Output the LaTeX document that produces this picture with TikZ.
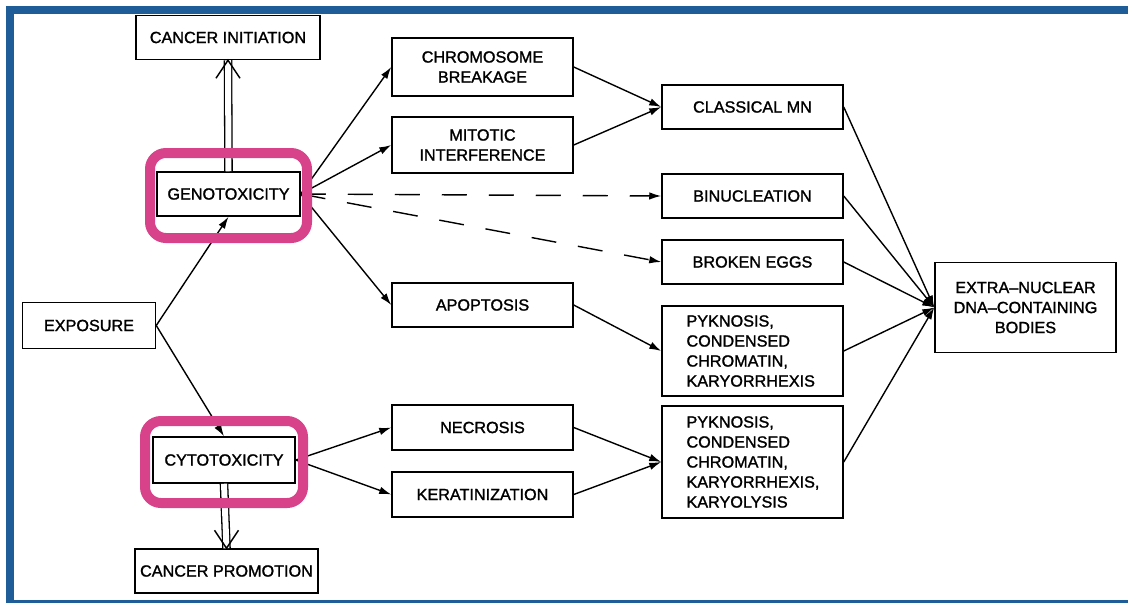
\documentclass[tikz,border=0pt]{standalone}
\usepackage{fontspec}
\setmainfont{Liberation Sans}
\newfontfamily\diagfont{Liberation Sans}[FakeBold=1.4,Ligatures=TeX]
\usetikzlibrary{arrows.meta}
\definecolor{framecolor}{RGB}{31,93,153}
\definecolor{markcolor}{RGB}{216,66,138}

\begin{document}
\begin{tikzpicture}[
			x=1pt,y=-1pt,
			effectbox/.style={
				draw=black,
				line width=1.5pt,
				fill=white,
				align=center,
				minimum width=181pt,
				minimum height=44pt,
				inner sep=0pt,
				font=\diagfont\fontsize{16.2}{20}\selectfont
			},
			listbox/.style={
				effectbox,
				align=left,
				text width=132pt
			},
			effectarrow/.style={
				-{Latex[length=12pt,width=7.5pt]},
				draw=black,
				line width=1.4pt
			},
			hintarrow/.style={
				effectarrow,
				dash pattern=on 25pt off 22pt
			},
			cancerline/.style={
				draw=black,
				line width=1.3pt,
				double=white,
				double distance=6pt
			},
			cancertip/.style={
				draw=black,
				line width=1.4pt
			},
			markring/.style={
				draw=markcolor,
				rounded corners=16pt,
				line width=10pt,
				inner sep=0pt
			}
		]
			\useasboundingbox (0,0) rectangle (1128,603);
			\fill[white] (0,0) rectangle (1128,603);
			% page frame (left, top and bottom bands)
			\fill[framecolor] (6,6) rectangle (1128,14);
			\fill[framecolor] (6,6) rectangle (14,603);
			\fill[framecolor] (6,600) rectangle (1128,603);
			
			% left part
			\node[effectbox,minimum width=184pt] (initiation) at (228,37.5) {CANCER INITIATION};
			\node[effectbox,minimum width=143pt] (geno) at (228.5,194) {GENOTOXICITY};
			\node[effectbox,minimum width=133pt,minimum height=46pt] (exposure) at (89,325.5) {EXPOSURE};
			\node[effectbox,minimum width=142pt,minimum height=46pt] (cyto) at (224,460) {CYTOTOXICITY};
			\node[effectbox,minimum width=183pt] (promotion) at (226.5,571) {CANCER PROMOTION};
			
			% middle column
			\node[effectbox,minimum height=58pt] (breakage) at (482.5,67) {CHROMOSOME\\BREAKAGE};
			\node[effectbox,minimum height=56pt] (mitotic) at (482.5,145) {MITOTIC\\INTERFERENCE};
			\node[effectbox] (apoptosis) at (482.5,305) {APOPTOSIS};
			\node[effectbox,minimum height=45pt] (necrosis) at (482.5,427.5) {NECROSIS};
			\node[effectbox,minimum height=45pt] (kerat) at (482.5,494.5) {KERATINIZATION};
			
			% right columns
			\node[effectbox] (classical) at (752.5,107) {CLASSICAL MN};
			\node[effectbox] (binuc) at (752.5,196) {BINUCLEATION};
			\node[effectbox] (eggs) at (752.5,262) {BROKEN EGGS};
			\node[listbox,minimum height=90pt] (pyknosis) at (752.5,351) {
				PYKNOSIS,\\
				CONDENSED\\
				CHROMATIN,\\
				KARYORRHEXIS
			};
			\node[listbox,minimum height=112pt] (lysis) at (752.5,462) {
				PYKNOSIS,\\
				CONDENSED\\
				CHROMATIN,\\
				KARYORRHEXIS,\\
				KARYOLYSIS
			};
			\node[effectbox,minimum height=90pt] (bodies) at (1025.5,307.5) {
				EXTRA–NUCLEAR\\
				DNA–CONTAINING\\
				BODIES
			};
			
			\draw[effectarrow] (exposure.east) -- (geno.south);
			\draw[effectarrow] (exposure.east) -- (cyto.north);
			
			% double arrows to cancer boxes
			\draw[cancerline] (geno.north) -- (initiation.south);
			\draw[cancertip] ([xshift=-12pt,yshift=-18pt]initiation.south) -- (initiation.south) -- ([xshift=12pt,yshift=-18pt]initiation.south);
			\draw[cancerline] (cyto.south) -- (promotion.north);
			\draw[cancertip] ([xshift=-12pt,yshift=18pt]promotion.north) -- (promotion.north) -- ([xshift=12pt,yshift=18pt]promotion.north);
			
			\draw[effectarrow] (geno.east) -- (breakage.west);
			\draw[effectarrow] (geno.east) -- (mitotic.west);
			\draw[hintarrow] (geno.east) -- (binuc.west);
			\draw[hintarrow] (geno.east) -- (eggs.west);
			\draw[effectarrow] (geno.east) -- (apoptosis.west);
			\draw[effectarrow] (cyto.east) -- (necrosis.west);
			\draw[effectarrow] (cyto.east) -- (kerat.west);
			
			\draw[effectarrow] (breakage.east) -- (classical.west);
			\draw[effectarrow] (mitotic.east) -- (classical.west);
			\draw[effectarrow] (apoptosis.east) -- (pyknosis.west);
			\draw[effectarrow] (necrosis.east) -- (lysis.west);
			\draw[effectarrow] (kerat.east) -- (lysis.west);
			
			\foreach \src in {classical,binuc,eggs,pyknosis,lysis}
				\draw[effectarrow] (\src.east) -- (bodies.west);
			
			% highlight rings
			\node[markring,minimum width=157pt,minimum height=85pt] (genoring) at (228.5,195.5) {};
			\node[markring,minimum width=158pt,minimum height=82pt] (cytoring) at (224,462) {};
			
		\end{tikzpicture}
\end{document}
